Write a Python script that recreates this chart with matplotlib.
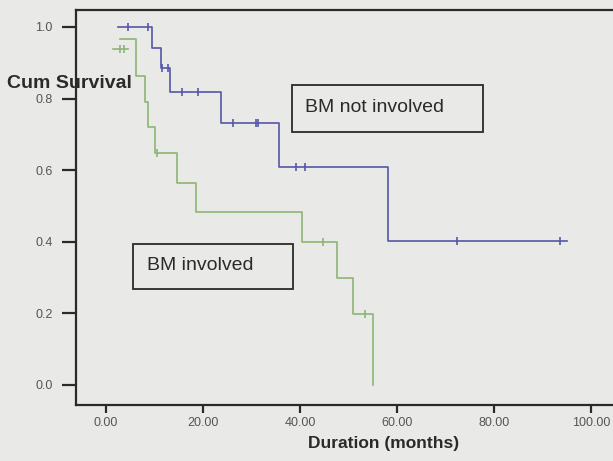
import numpy as np
import matplotlib

matplotlib.use("Agg")
import matplotlib.pyplot as plt
from matplotlib.patches import Rectangle

plt.rcParams["font.family"] = ["Liberation Sans", "DejaVu Sans"]

# Kaplan-Meier step data: event times (months) and survival after each step
not_inv_t = [2.5, 9.5, 11.3, 13.2, 23.7, 35.7, 58.1, 95.0]
not_inv_s = [1.0, 0.941, 0.885, 0.818, 0.732, 0.609, 0.402, 0.402]
not_inv_cens = [4.5, 8.7, 11.5, 12.8, 15.7, 19.0, 26.2, 30.9, 31.3, 39.2, 41.0, 72.4, 93.6]

inv_t = [2.9, 6.2, 8.0, 8.7, 10.1, 14.6, 18.6, 40.4, 47.6, 50.9, 55.1]
inv_s = [0.966, 0.863, 0.790, 0.721, 0.648, 0.564, 0.483, 0.400, 0.299, 0.198, 0.0]
inv_cens = [10.5, 44.7, 53.4]

# short censored segment at the start of the involved group
inv_early_t = [1.4, 4.5]
inv_early_s = [0.939, 0.939]
inv_early_cens = [2.9, 3.7]

y_ticks = [0.0, 0.2, 0.4, 0.6, 0.8, 1.0]
x_ticks = [0, 20, 40, 60, 80, 100]

BG = "#e9e9e7"
BLUE = "#5656a8"
GREEN = "#8db673"
INK = "#2a2a2a"


def step_value(t, s, x):
    i = np.searchsorted(t, x, side="right") - 1
    return np.asarray(s)[np.clip(i, 0, len(s) - 1)]


fig = plt.figure(figsize=(6.13, 4.61), dpi=100, facecolor=BG)
ax = fig.add_axes([0.124, 0.1215, 0.876, 0.857], facecolor=BG)

ax.step(not_inv_t, not_inv_s, where="post", color=BLUE, lw=1.2)
ax.plot(not_inv_cens, step_value(not_inv_t, not_inv_s, not_inv_cens), "|",
        color=BLUE, ms=6, mew=1.2)

ax.step(inv_t, inv_s, where="post", color=GREEN, lw=1.2)
ax.plot(inv_cens, step_value(inv_t, inv_s, inv_cens), "|",
        color=GREEN, ms=6, mew=1.2)
ax.plot(inv_early_t, inv_early_s, color=GREEN, lw=1.2)
ax.plot(inv_early_cens, [inv_early_s[0]] * len(inv_early_cens), "|",
        color=GREEN, ms=6, mew=1.2)

ax.set_xlim(-6.19, 104.5)
ax.set_ylim(-0.056, 1.0475)
ax.set_xticks(x_ticks)
ax.set_xticklabels([f"{v:.2f}" for v in x_ticks])
ax.set_yticks(y_ticks)
ax.set_yticklabels([f"{v:.1f}" for v in y_ticks])
ax.tick_params(axis="y", length=10, width=1.6, pad=7, color=INK,
               labelsize=9, labelcolor="#555555")
ax.tick_params(axis="x", length=6, width=1.6, pad=3, color=INK,
               labelsize=9, labelcolor="#555555")
ax.spines["right"].set_visible(False)
for side in ("left", "bottom", "top"):
    ax.spines[side].set_linewidth(1.6)
    ax.spines[side].set_color(INK)

# group labels in boxes
for (x0, y0, x1, y1), (tx, ty), label in [
    ((0.402, 0.691, 0.758, 0.810), (0.426, 0.754), "BM not involved"),
    ((0.106, 0.294, 0.404, 0.408), (0.132, 0.352), "BM involved"),
]:
    ax.add_patch(Rectangle((x0, y0), x1 - x0, y1 - y0, transform=ax.transAxes,
                           fill=False, ec=INK, lw=1.3, zorder=4))
    ax.text(tx, ty, label, transform=ax.transAxes, fontsize=14,
            color=INK, ha="left", va="center")

fig.text(7 / 613, 1 - 83 / 461, "Cum Survival", fontsize=14, fontweight="bold",
         color=INK, ha="left", va="center")
fig.text(384 / 613, 1 - 443 / 461, "Duration (months)", fontsize=12.5,
         fontweight="bold", color=INK, ha="center", va="center")

fig.savefig("out.png", dpi=100, facecolor=BG)
